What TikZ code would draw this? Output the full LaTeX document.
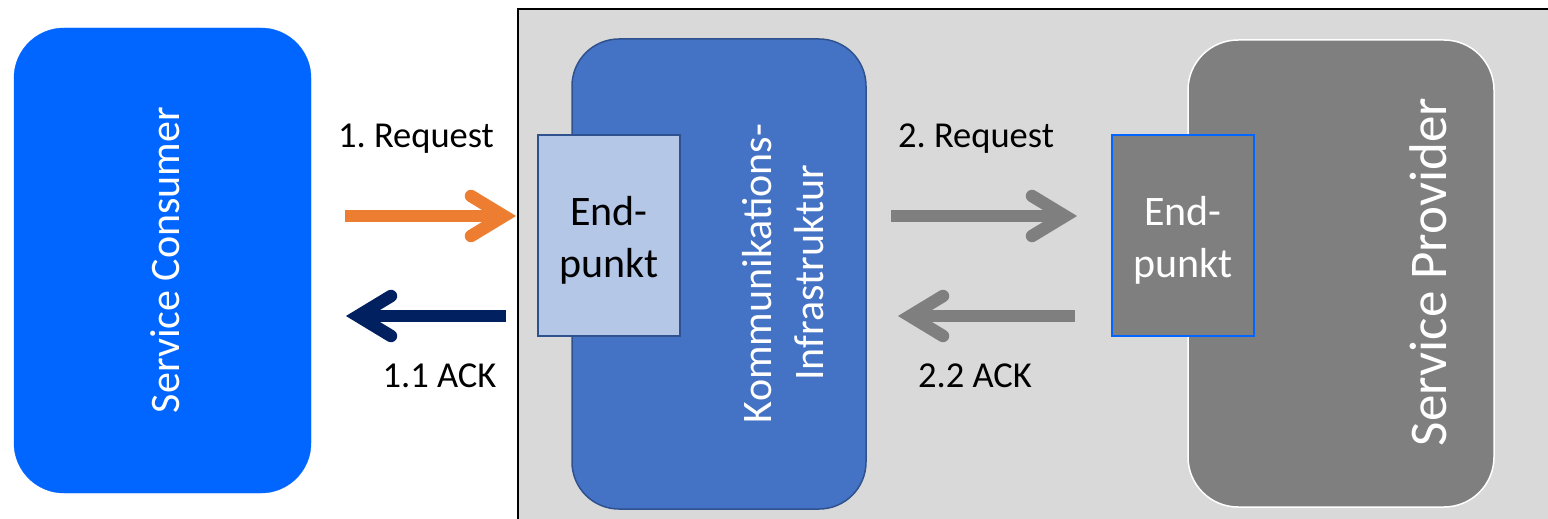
\documentclass[tikz,border=0pt]{standalone}
\usepackage{fontspec}
\setmainfont{Carlito}
\frenchspacing
\definecolor{cblue}{HTML}{0066FF}
\definecolor{bggray}{HTML}{D9D9D9}
\definecolor{kblue}{HTML}{4472C4}
\definecolor{kborder}{HTML}{2F528F}
\definecolor{eplight}{HTML}{B4C7E7}
\definecolor{pgray}{HTML}{7F7F7F}
\definecolor{orangec}{HTML}{ED7D31}
\definecolor{navyc}{HTML}{002060}
\begin{document}
\begin{tikzpicture}[x=1pt,y=-1pt,
  box/.style={draw, inner sep=0pt, outer sep=0pt},
  rbox/.style={box, rounded corners=50pt},
  lbl/.style={font=\fontsize{36.5pt}{44pt}\selectfont, anchor=base, inner sep=0pt},
  eptxt/.style={font=\fontsize{42pt}{52pt}\selectfont, align=center, inner sep=0pt},
  vtxt/.style={rotate=90, anchor=base, inner sep=0pt, text=white, font=\fontsize{42pt}{52pt}\selectfont},
  shaft/.style={line width=12.5pt, line cap=butt},
  head/.style={line width=12.5pt, line cap=round, line join=miter},
]
\fill[white] (0,0) rectangle (1548,519);
\useasboundingbox (0,0) rectangle (1548,519);
\begin{scope}
\clip (0,0) rectangle (1548,519);
\node[box, fill=bggray, line width=2pt, minimum width=1060pt, minimum height=540pt, anchor=north west] (bg) at (518,9) {};
\end{scope}
% Service Consumer
\node[rbox, fill=cblue, draw=cblue, minimum width=297pt, minimum height=465pt] (sc) at (162.5,260.5) {};
\node[vtxt] (sctxt) at (179,260) {Service Consumer};
% Kommunikationsinfrastruktur
\node[rbox, fill=kblue, draw=kborder, line width=1.5pt, rounded corners=47pt, minimum width=294pt, minimum height=470pt] (ki) at (719,274) {};
\node[box, fill=eplight, draw=kborder, line width=2pt, minimum width=142pt, minimum height=201pt] (ep1) at (609,235.5) {};
\node[eptxt] (ep1txt) at (609,240) {End-\\punkt};
\node[vtxt] (kitxt1) at (771,273.5) {Kommunikations-};
\node[vtxt] (kitxt2) at (823,273) {Infrastruktur};
% Service Provider
\node[rbox, fill=pgray, draw=white, line width=1.5pt, minimum width=306pt, minimum height=467pt] (sp) at (1341,273.5) {};
\node[box, fill=pgray, draw=cblue, line width=2pt, minimum width=142pt, minimum height=201pt] (ep2) at (1183,235.5) {};
\node[eptxt, text=white] (ep2txt) at (1183,240) {End-\\punkt};
\node[vtxt, font=\fontsize{53pt}{64pt}\selectfont] (sptxt) at (1446,272) {Service Provider};
% arrows
\coordinate (o1) at (345,216); \coordinate (o2) at (504,216);
\draw[shaft, orangec] (o1) -- (o2);
\draw[head, orangec] ([shift={(-33,-20)}]o2) -- (o2) -- ([shift={(-33,20)}]o2);
\coordinate (n1) at (506,316); \coordinate (n2) at (358,316);
\draw[shaft, navyc] (n1) -- (n2);
\draw[head, navyc] ([shift={(33,-20)}]n2) -- (n2) -- ([shift={(33,20)}]n2);
\coordinate (g1) at (891,216); \coordinate (g2) at (1065,216);
\draw[shaft, pgray] (g1) -- (g2);
\draw[head, pgray] ([shift={(-33,-20)}]g2) -- (g2) -- ([shift={(-33,20)}]g2);
\coordinate (h1) at (1075,316); \coordinate (h2) at (910,316);
\draw[shaft, pgray] (h1) -- (h2);
\draw[head, pgray] ([shift={(33,-20)}]h2) -- (h2) -- ([shift={(33,20)}]h2);
% labels
\node[lbl] (l1) at (416,147) {1. Request};
\node[lbl] (l2) at (439.5,387) {1.1 ACK};
\node[lbl] (l3) at (976,147) {2. Request};
\node[lbl] (l4) at (975,387) {2.2 ACK};
\end{tikzpicture}
\end{document}
